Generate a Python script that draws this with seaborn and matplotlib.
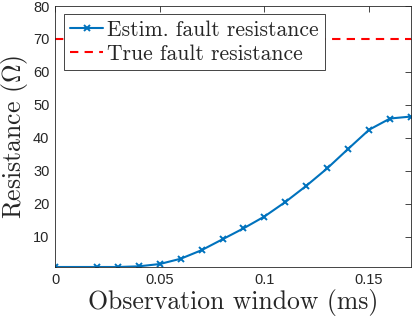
import matplotlib
matplotlib.use("Agg")
import matplotlib.pyplot as plt
import numpy as np
import pandas as pd
import seaborn as sns

# observation window (ms) and estimated resistance (ohm)
window_ms = [0.0, 0.02, 0.03, 0.04, 0.05, 0.06, 0.07, 0.08, 0.09, 0.10,
             0.11, 0.12, 0.13, 0.14, 0.15, 0.16, 0.17]
estim_res = [0.9, 0.9, 0.9, 1.1, 1.8, 3.4, 6.0, 9.3, 12.6, 16.2,
             20.6, 25.5, 30.8, 36.7, 42.5, 45.9, 46.5]
true_res = 70.0
x_ticks = [0, 0.05, 0.1, 0.15]
y_ticks = [10, 20, 30, 40, 50, 60, 70, 80]

sns.set_style("white")
plt.rcParams["mathtext.fontset"] = "cm"
plt.rcParams["font.family"] = ["Liberation Sans", "DejaVu Sans"]

df_est = pd.DataFrame({"window": window_ms, "res": estim_res})
df_true = pd.DataFrame({"window": [window_ms[0], window_ms[-1]],
                        "res": [true_res, true_res]})

blue = "#0072BD"
fig = plt.figure(figsize=(4.15, 3.23), dpi=100)
ax = fig.add_axes([55 / 415, 1 - 267 / 323, 356 / 415, 261 / 323])

sns.lineplot(data=df_est, x="window", y="res", ax=ax, color=blue,
             linewidth=1.5, marker="x", markersize=4.5,
             markeredgewidth=1.4, markeredgecolor=blue,
             label="Estim. fault resistance")
sns.lineplot(data=df_true, x="window", y="res", ax=ax, color="red",
             linewidth=1.5, label="True fault resistance")
est_line, true_line = ax.lines[0], ax.lines[1]
true_line.set_linestyle((0, (4, 3)))

ax.set_xlim(0, 0.17)
ax.set_ylim(0.9, 80)
ax.set_xticks(x_ticks)
ax.set_xticklabels(["0", "0.05", "0.1", "0.15"])
ax.set_yticks(y_ticks)
ax.tick_params(direction="in", length=4, width=0.6, colors="#262626",
               labelsize=10.5, top=True, right=True, pad=4)
for s in ax.spines.values():
    s.set_color("#262626")
    s.set_linewidth(0.6)

serif = {"family": "cmr10", "size": 18.5}
ax.set_xlabel("Observation window (ms)", fontdict=serif, labelpad=2)
ax.set_ylabel(r"Resistance ($\Omega$)", fontdict=serif, labelpad=2)

ax.legend(handles=[est_line, true_line],
          labels=["Estim. fault resistance", "True fault resistance"],
          loc="upper left", bbox_to_anchor=(9 / 356, 1 - 8 / 261),
          prop={"family": "cmr10", "size": 15.5}, frameon=True,
          framealpha=1.0, fancybox=False, borderpad=0.3, handlelength=1.5,
          handletextpad=0.2, labelspacing=0.2, borderaxespad=0.0)
leg = ax.get_legend()
leg.get_frame().set_edgecolor("#262626")
leg.get_frame().set_linewidth(0.6)

fig.savefig("out.png", dpi=100)
